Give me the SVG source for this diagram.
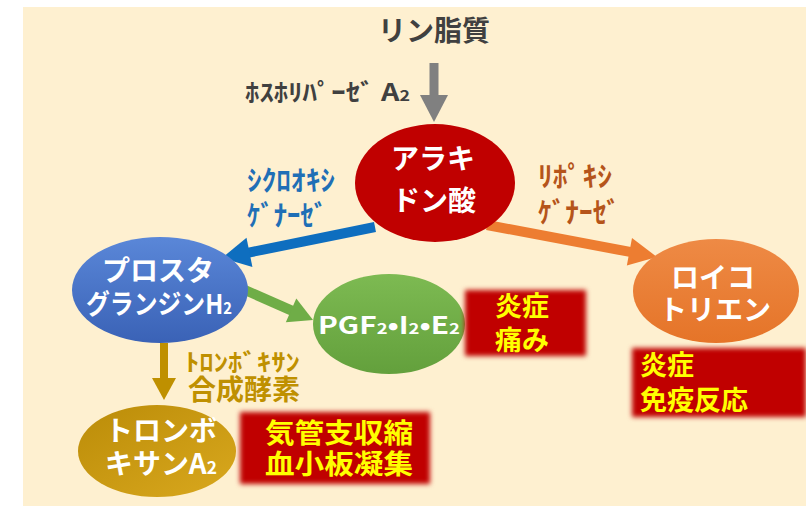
<svg xmlns="http://www.w3.org/2000/svg" width="806" height="506" viewBox="0 0 806 506">
<style>
  text { font-family: "Noto Sans CJK JP", "Noto Sans", sans-serif; font-weight: bold; }
  .w { fill: #FFFFFF; font-size: 28px; text-anchor: middle; }
  .y { fill: #FFFF00; font-size: 27px; }
  .box { fill: #C00000; filter: url(#glow); }
  .sub { font-size: 62%; }
</style>
<defs>
  <filter id="glow" x="-10%" y="-15%" width="120%" height="130%">
    <feGaussianBlur stdDeviation="2.5"/>
  </filter>
  <linearGradient id="gBlue" x1="0" y1="0" x2="0" y2="1">
    <stop offset="0" stop-color="#5A87D8"/>
    <stop offset="1" stop-color="#3A62B6"/>
  </linearGradient>
  <linearGradient id="gGreen" x1="0" y1="0" x2="0" y2="1">
    <stop offset="0" stop-color="#7DBA52"/>
    <stop offset="1" stop-color="#63A03C"/>
  </linearGradient>
  <linearGradient id="gOrange" x1="0" y1="0" x2="0" y2="1">
    <stop offset="0" stop-color="#EE8A45"/>
    <stop offset="1" stop-color="#E57428"/>
  </linearGradient>
  <linearGradient id="gGold" x1="0" y1="0" x2="1" y2="1">
    <stop offset="0" stop-color="#BB8C08"/>
    <stop offset="1" stop-color="#D9A81E"/>
  </linearGradient>
  <marker id="mGray" markerUnits="userSpaceOnUse" markerWidth="27" markerHeight="28" refX="2" refY="14" orient="auto" overflow="visible">
    <path d="M0,0 L27,14 L0,28 z" fill="#808080"/>
  </marker>
  <marker id="mBlue" markerUnits="userSpaceOnUse" markerWidth="28" markerHeight="30" refX="2" refY="15" orient="auto" overflow="visible">
    <path d="M0,0 L28,15 L0,30 z" fill="#0E6EBF"/>
  </marker>
  <marker id="mOrange" markerUnits="userSpaceOnUse" markerWidth="28" markerHeight="28" refX="2" refY="14" orient="auto" overflow="visible">
    <path d="M0,0 L28,14 L0,28 z" fill="#ED7D31"/>
  </marker>
  <marker id="mGreen" markerUnits="userSpaceOnUse" markerWidth="24" markerHeight="26" refX="2" refY="13" orient="auto" overflow="visible">
    <path d="M0,0 L24,13 L0,26 z" fill="#6FAD47"/>
  </marker>
  <marker id="mGold" markerUnits="userSpaceOnUse" markerWidth="22" markerHeight="24" refX="2" refY="12" orient="auto" overflow="visible">
    <path d="M0,0 L22,12 L0,24 z" fill="#BF9000"/>
  </marker>
</defs>

<rect x="0" y="0" width="806" height="506" fill="#FFFFFF"/>
<rect x="23" y="7" width="783" height="499" fill="#FEF0D0"/>

<g id="connectors">
  <line x1="434" y1="63" x2="434" y2="97" stroke="#808080" stroke-width="9" marker-end="url(#mGray)"/>
  <line x1="375" y1="227" x2="247.5" y2="252.8" stroke="#0E6EBF" stroke-width="10" marker-end="url(#mBlue)"/>
  <line x1="487" y1="225" x2="631.4" y2="252.2" stroke="#ED7D31" stroke-width="10" marker-end="url(#mOrange)"/>
  <line x1="245" y1="290" x2="292.9" y2="311.1" stroke="#6FAD47" stroke-width="10" marker-end="url(#mGreen)"/>
  <line x1="164" y1="343" x2="164" y2="380" stroke="#BF9000" stroke-width="8" marker-end="url(#mGold)"/>
  <text x="245" y="101" font-size="24" fill="#404040" textLength="165" lengthAdjust="spacingAndGlyphs">ﾎｽﾎﾘﾊﾟｰｾﾞ A<tspan class="sub">2</tspan></text>
  <text x="247" y="191" font-size="28" fill="#1F6FB6" textLength="88" lengthAdjust="spacingAndGlyphs">ｼｸﾛｵｷｼ</text>
  <text x="247" y="226" font-size="28" fill="#1F6FB6" textLength="80" lengthAdjust="spacingAndGlyphs">ｹﾞﾅｰｾﾞ</text>
  <text x="538" y="187" font-size="28" fill="#B5541A" textLength="74" lengthAdjust="spacingAndGlyphs">ﾘﾎﾟｷｼ</text>
  <text x="538" y="223" font-size="28" fill="#B5541A" textLength="82" lengthAdjust="spacingAndGlyphs">ｹﾞﾅｰｾﾞ</text>
  <text x="185" y="371" font-size="24" fill="#BF9000" textLength="115" lengthAdjust="spacingAndGlyphs">ﾄﾛﾝﾎﾞｷｻﾝ</text>
  <text x="188" y="400" font-size="28" fill="#BF9000" textLength="112" lengthAdjust="spacingAndGlyphs">合成酵素</text>
</g>

<g id="phospholipid">
  <text x="434" y="41" font-size="28" fill="#404040" text-anchor="middle">リン脂質</text>
</g>

<g id="arachidonic">
  <ellipse cx="435" cy="183" rx="80" ry="59" fill="#C00000"/>
  <text class="w" x="433" y="169" font-size="34">アラキ</text>
  <text class="w" x="434" y="211" font-size="34">ドン酸</text>
</g>

<g id="prostaglandin">
  <ellipse cx="160" cy="290" rx="88" ry="53" fill="url(#gBlue)"/>
  <text class="w" x="158" y="281">プロスタ</text>
  <text x="86" y="314" font-size="27" fill="#FFFFFF" textLength="146" lengthAdjust="spacingAndGlyphs">グランジンH<tspan class="sub">2</tspan></text>
</g>

<g id="pgf">
  <ellipse cx="389" cy="324" rx="76" ry="50" fill="url(#gGreen)"/>
  <text x="318" y="334" font-size="24" fill="#FFFFFF" textLength="142" lengthAdjust="spacingAndGlyphs">PGF<tspan class="sub">2</tspan>•I<tspan class="sub">2</tspan>•E<tspan class="sub">2</tspan></text>
</g>

<g id="effect1">
  <rect class="box" x="465" y="290" width="121" height="66"/>
  <text class="y" x="495" y="316">炎症</text>
  <text class="y" x="495" y="350">痛み</text>
</g>

<g id="leukotriene">
  <ellipse cx="716" cy="291" rx="83" ry="52" fill="url(#gOrange)"/>
  <text class="w" x="713" y="288">ロイコ</text>
  <text class="w" x="715" y="320">トリエン</text>
</g>

<g id="effect2">
  <rect class="box" x="632" y="348" width="174" height="69"/>
  <text class="y" x="640" y="375" font-size="28">炎症</text>
  <text class="y" x="640" y="410" font-size="28">免疫反応</text>
</g>

<g id="thromboxane">
  <ellipse cx="157" cy="451" rx="79" ry="46" fill="url(#gGold)"/>
  <text class="w" x="161" y="441">トロンボ</text>
  <text x="105" y="474" font-size="28" fill="#FFFFFF" textLength="112" lengthAdjust="spacingAndGlyphs">キサンA<tspan class="sub">2</tspan></text>
</g>

<g id="effect3">
  <rect class="box" x="240" y="412" width="190" height="72"/>
  <text class="y" x="265" y="443" font-size="29" textLength="148" lengthAdjust="spacingAndGlyphs">気管支収縮</text>
  <text class="y" x="265" y="474" font-size="29" textLength="148" lengthAdjust="spacingAndGlyphs">血小板凝集</text>
</g>
</svg>
